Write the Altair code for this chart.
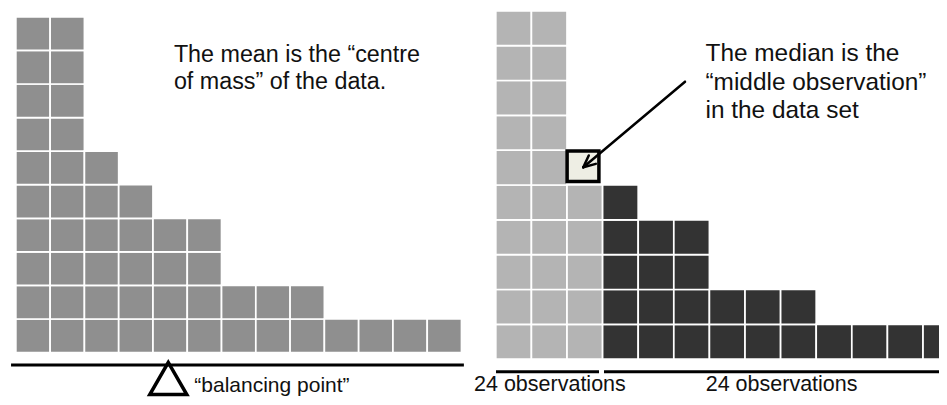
import altair as alt
import pandas as pd

# ---- data -------------------------------------------------------------
counts = [10, 10, 6, 5, 4, 4, 2, 2, 2, 1, 1, 1, 1]   # squares per column (49 obs)
median_col, median_row = 2, 5                       # the middle observation
split_col = 3                                       # columns left of this = lower half

left_color = "#8f8f8f"
light_color = "#b4b4b4"
dark_color = "#333333"
median_fill = "#eeeee4"

mean_lines = ["The mean is the \u201ccentre", "of mass\u201d of the data."]
median_lines = ["The median is the", "\u201cmiddle observation\u201d", "in the data set"]
balance_label = "\u201cbalancing point\u201d"
half_labels = ["24 observations", "24 observations"]

# annotation anchors, in column / row units of each panel
mean_text_x = 4.61
mean_text_y = [8.67, 7.85]
median_text_x = 5.89
median_text_y = [8.56, 7.74, 6.92]
beam = dict(x=-0.14, x2=13.07, y=-0.371)
fulcrum = dict(x=4.447, y=-0.773)
balance_pos = dict(x=5.206, y=-1.175)
half_lines = [dict(x=0.006, x2=2.899, y=-0.36), dict(x=3.039, x2=13.9, y=-0.36)]
half_label_x = [-0.612, 5.896]
half_label_y = -0.92
median_box = dict(x=2.003, x2=2.896, y=5.10, y2=5.976)
arrow_segments = [
    dict(x=5.315, y=7.966, x2=2.458, y2=5.508),
    dict(x=2.458, y=5.508, x2=2.809, y2=5.606),
    dict(x=2.458, y=5.508, x2=2.611, y2=5.847),
]

# ---- tables ----------------------------------------------------------
cells = pd.DataFrame(
    [dict(c=i, c2=i + 1, r=j, r2=j + 1) for i, n in enumerate(counts) for j in range(n)]
)
right_cells = cells[~((cells.c == median_col) & (cells.r == median_row))].copy()
right_cells["half"] = ["lower" if c < split_col else "upper" for c in right_cells.c]

# ---- scales (units -> pixels) -----------------------------------------
xL = alt.Scale(domain=[-0.229, 26.93], nice=False, zero=False)
yL = alt.Scale(domain=[-1.324, 10.264], nice=False, zero=False)
xR = alt.Scale(domain=[-13.702, 12.449], nice=False, zero=False)
yR = alt.Scale(domain=[-1.0867, 10.082], nice=False, zero=False)

FONT = "Liberation Sans"


def X(f, s):
    return alt.X(f, type="quantitative", scale=s, axis=None)


def Y(f, s):
    return alt.Y(f, type="quantitative", scale=s, axis=None)


# ---- left panel: mean --------------------------------------------------
l_cells = alt.Chart(cells).mark_rect(
    color=left_color, stroke="white", strokeWidth=1.7
).encode(x=X("c", xL), x2="c2", y=Y("r", yL), y2="r2")

l_beam = alt.Chart(pd.DataFrame([beam])).mark_rule(
    color="black", strokeWidth=3
).encode(x=X("x", xL), x2="x2", y=Y("y", yL))

l_tri = alt.Chart(pd.DataFrame([fulcrum])).mark_point(
    shape="triangle-up", filled=False, color="black", strokeWidth=3.5, size=1369, opacity=1
).encode(x=X("x", xL), y=Y("y", yL))

l_text = alt.Chart(
    pd.DataFrame(dict(t=mean_lines, x=mean_text_x, y=mean_text_y))
).mark_text(
    align="left", baseline="alphabetic", font=FONT, fontSize=23.3, color="#111111"
).encode(x=X("x", xL), y=Y("y", yL), text="t:N")

l_bal = alt.Chart(pd.DataFrame([dict(balance_pos, t=balance_label)])).mark_text(
    align="left", baseline="alphabetic", font=FONT, fontSize=21, color="#111111"
).encode(x=X("x", xL), y=Y("y", yL), text="t:N")

left = alt.layer(l_cells, l_beam, l_tri, l_text, l_bal)

# ---- right panel: median -------------------------------------------------
r_cells = alt.Chart(right_cells).mark_rect(
    stroke="white", strokeWidth=1.7, clip=True
).encode(
    x=X("c", xR), x2="c2", y=Y("r", yR), y2="r2",
    color=alt.Color("half:N", scale=alt.Scale(domain=["lower", "upper"],
                                               range=[light_color, dark_color]), legend=None),
)

r_median = alt.Chart(pd.DataFrame([median_box])).mark_rect(
    fill=median_fill, stroke="black", strokeWidth=3.5
).encode(x=X("x", xR), x2="x2", y=Y("y", yR), y2="y2")

r_arrow = alt.Chart(pd.DataFrame(arrow_segments)).mark_rule(
    color="black", strokeWidth=2.5, strokeCap="round"
).encode(x=X("x", xR), x2="x2", y=Y("y", yR), y2="y2")

r_lines = alt.Chart(pd.DataFrame(half_lines)).mark_rule(
    color="black", strokeWidth=3, clip=True
).encode(x=X("x", xR), x2="x2", y=Y("y", yR))

r_text = alt.Chart(
    pd.DataFrame(dict(t=median_lines, x=median_text_x, y=median_text_y))
).mark_text(
    align="left", baseline="alphabetic", font=FONT, fontSize=24.4, color="#111111"
).encode(x=X("x", xR), y=Y("y", yR), text="t:N")

r_half = alt.Chart(
    pd.DataFrame(dict(t=half_labels, x=half_label_x, y=half_label_y))
).mark_text(
    align="left", baseline="alphabetic", font=FONT, fontSize=21.5, color="#111111"
).encode(x=X("x", xR), y=Y("y", yR), text="t:N")

right = alt.layer(r_cells, r_median, r_arrow, r_lines, r_text, r_half)

chart = (
    alt.layer(left, right)
    .resolve_scale(x="independent", y="independent", color="independent")
    .properties(width=931, height=389, padding=0,
                autosize=alt.AutoSizeParams(type="none"), background="white")
    .configure_view(stroke=None)
)

chart.save("out.html", embed_options={"renderer": "svg", "actions": False})
